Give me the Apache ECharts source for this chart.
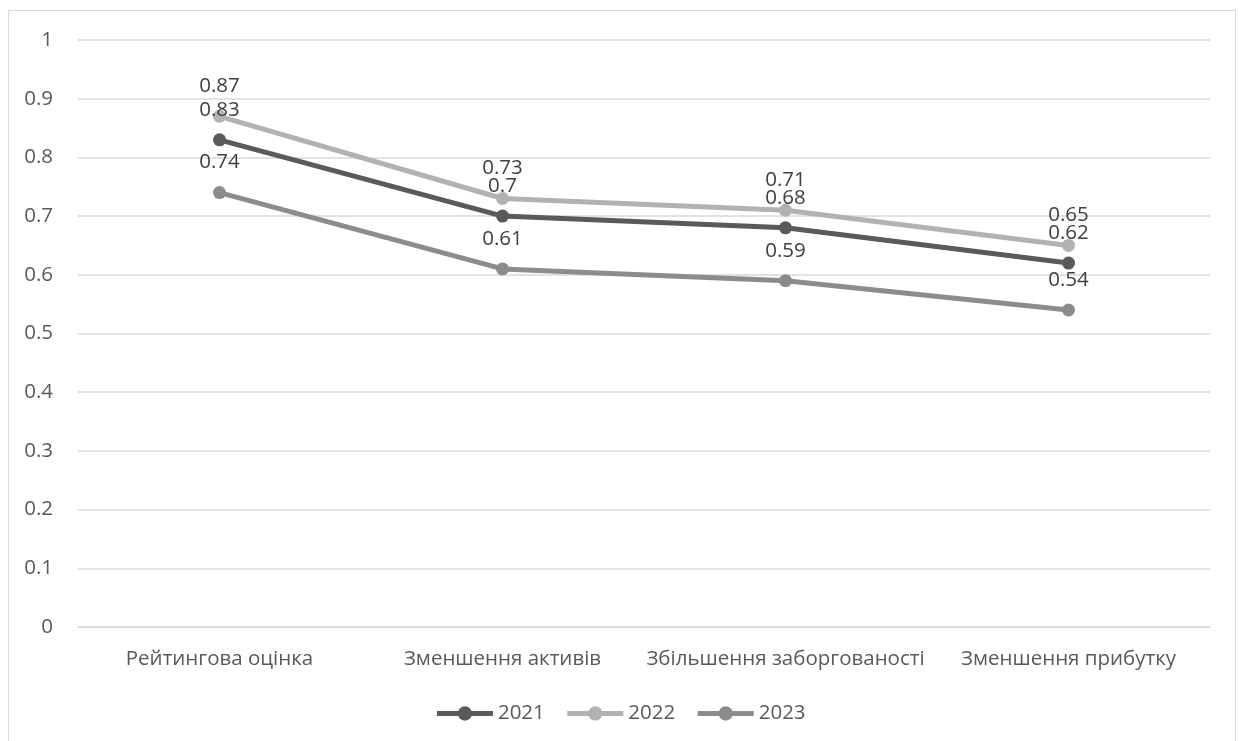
<!DOCTYPE html>
<html><head><meta charset="utf-8">
<script src="https://cdn.jsdelivr.net/npm/echarts@6/dist/echarts.min.js"></script>
<style>html,body{margin:0;padding:0;background:#fff}#c{width:1240px;height:741px}
#frame{position:absolute;left:8px;top:10px;width:1228px;height:740px;border:1.5px solid #d9d9d9;box-sizing:border-box;pointer-events:none}</style>
</head><body><div id="c"></div><div id="frame"></div>
<script>
const categories = ['Рейтингова оцінка', 'Зменшення активів', 'Збільшення заборгованості', 'Зменшення прибутку'];
const seriesNames = ['2021', '2022', '2023'];
const values2021 = [0.83, 0.70, 0.68, 0.62];
const values2022 = [0.87, 0.73, 0.71, 0.65];
const values2023 = [0.74, 0.61, 0.59, 0.54];
const colors = ['#5a5a5a', '#b2b2b2', '#8c8c8c'];
const font = 'Open Sans';
const fs = 20.5;
const chart = echarts.init(document.getElementById('c'));
function mk(name, data, color){
  return {name, type:'line', data, symbol:'circle', symbolSize:13,
    lineStyle:{width:5,color}, itemStyle:{color},
    label:{show:true, position:'top', distance:13, color:'#404040', fontSize:fs, fontFamily:font},
    z: 2};
}
chart.setOption({
  animation:false,
  textStyle:{fontFamily:font},
  grid:{left:78, right:30, top:40, bottom:114},
  xAxis:{type:'category', data:categories, boundaryGap:true,
    axisLine:{show:true, lineStyle:{color:'#d9d9d9', width:1.5}}, axisTick:{show:false},
    axisLabel:{color:'#595959', fontSize:fs, fontFamily:font, margin:22, interval:0}},
  yAxis:{type:'value', min:0, max:1, interval:0.1,
    axisLine:{show:false}, axisTick:{show:false},
    splitLine:{lineStyle:{color:'#d9d9d9', width:1.5}},
    axisLabel:{color:'#595959', fontSize:fs, fontFamily:font, margin:25,
      formatter:v=>String(Math.round(v*10)/10)}},
  legend:{bottom:12, left:'center', itemWidth:56, itemHeight:18, itemGap:20,
    lineStyle:{width:5},
    textStyle:{color:'#595959', fontSize:fs, fontFamily:font},
    data:seriesNames},
  series:[mk(seriesNames[0], values2021, colors[0]), mk(seriesNames[1], values2022, colors[1]), mk(seriesNames[2], values2023, colors[2])]
});
</script></body></html>
